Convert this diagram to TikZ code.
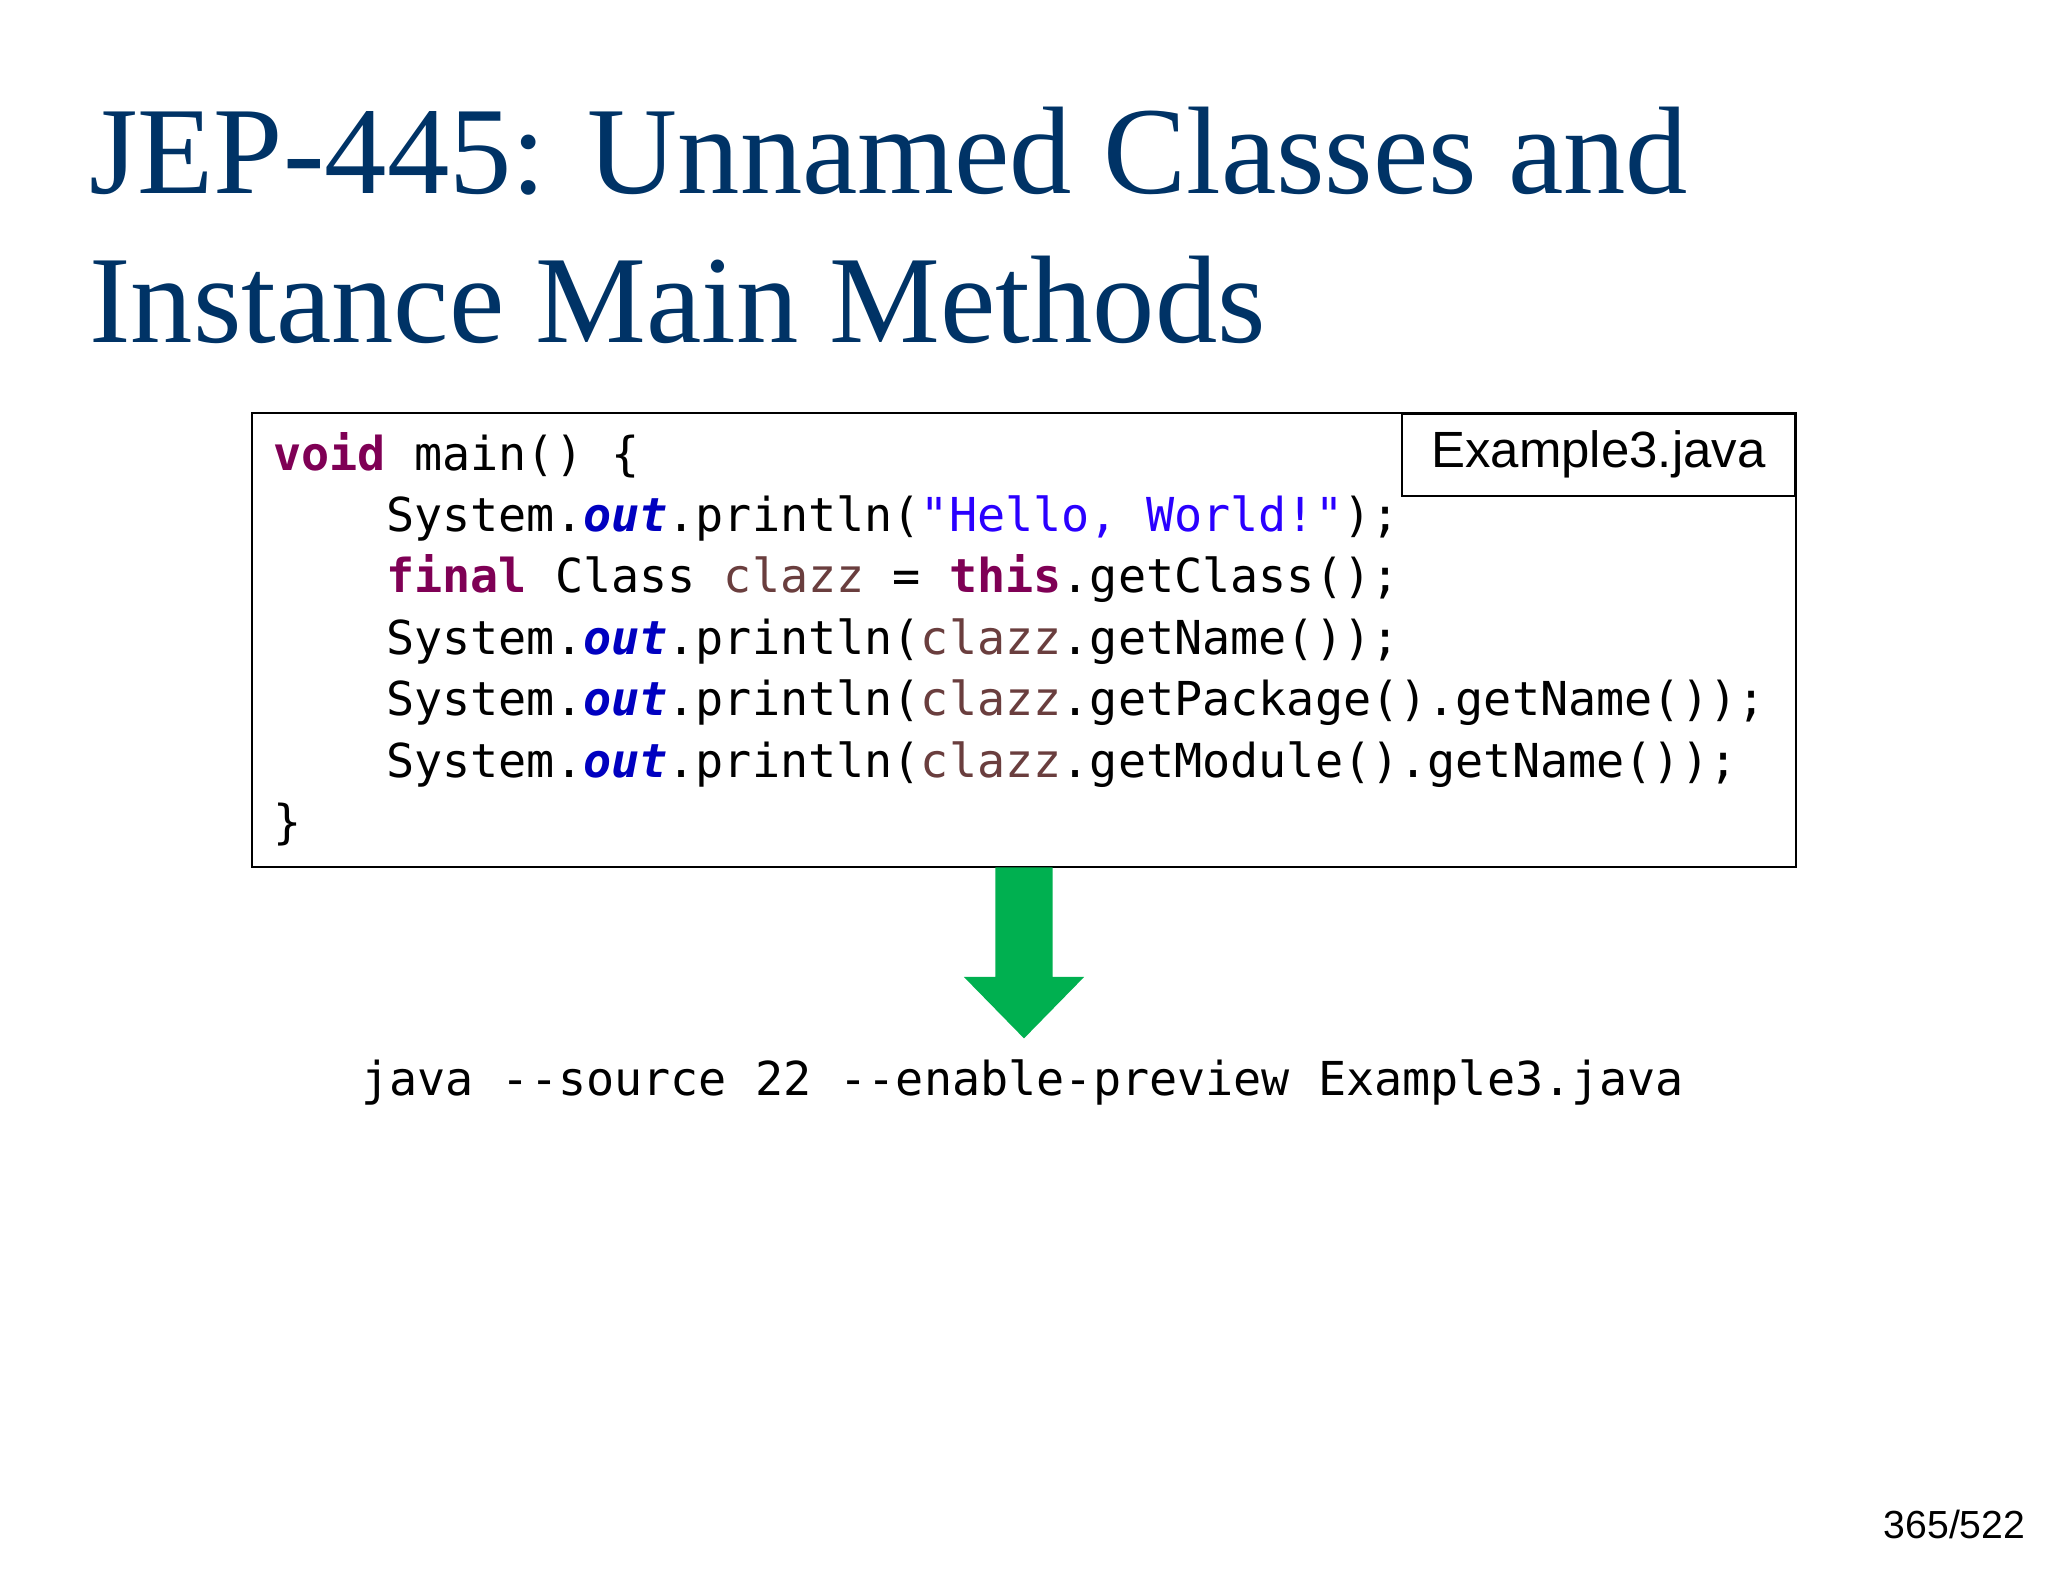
\documentclass[tikz,border=0pt]{standalone}
\usepackage{fontspec}
\setmainfont{Liberation Serif}
\setsansfont{Liberation Sans}
\setmonofont{DejaVu Sans Mono}
\definecolor{titleblue}{RGB}{0,51,102}
\definecolor{kwc}{RGB}{127,0,85}
\definecolor{fldc}{RGB}{0,0,192}
\definecolor{strc}{RGB}{42,0,255}
\definecolor{varc}{RGB}{106,62,62}
\definecolor{arrowgreen}{RGB}{0,176,80}
\newcommand{\kw}[1]{\textcolor{kwc}{\bfseries #1}}
\newcommand{\fld}[1]{\textcolor{fldc}{\bfseries\itshape #1}}
\newcommand{\strl}[1]{\textcolor{strc}{#1}}
\newcommand{\vr}[1]{\textcolor{varc}{#1}}
\newcommand{\ind}{\phantom{xxxx}}
\begin{document}
\begin{tikzpicture}[x=0.5pt,y=-0.5pt,
  title/.style={anchor=base west,inner sep=0,font=\fontsize{47.7}{57}\selectfont,text=titleblue},
  code/.style={anchor=base west,inner sep=0,font=\ttfamily\fontsize{17.9}{21}\selectfont},
  lbl/.style={font=\sffamily\fontsize{19.5}{23}\selectfont}]
\useasboundingbox (0,0) rectangle (1568,1211);
\node[title] (t1) at (68,148) {JEP-445: Unnamed Classes and};
\node[title] (t2) at (68,262) {Instance Main Methods};
\draw[line width=0.7pt] (193,316) rectangle (1375,664);
\node[draw,line width=0.7pt,fill=white,minimum width=150.5pt,minimum height=31.5pt,anchor=north east,lbl] (fname) at (1375,316) {Example3.java};
\node[code] (c1) at (209,360) {\kw{void} main() \{};
\node[code] (c2) at (209,407) {\ind System.\fld{out}.println(\strl{"Hello, World!"});};
\node[code] (c3) at (209,454) {\ind \kw{final} Class \vr{clazz} = \kw{this}.getClass();};
\node[code] (c4) at (209,501) {\ind System.\fld{out}.println(\vr{clazz}.getName());};
\node[code] (c5) at (209,548) {\ind System.\fld{out}.println(\vr{clazz}.getPackage().getName());};
\node[code] (c6) at (209,595) {\ind System.\fld{out}.println(\vr{clazz}.getModule().getName());};
\node[code] (c7) at (209,642) {\}};
\fill[arrowgreen] (762,664) -- (806,664) -- (806,748) -- (830,748) -- (784,795) -- (738,748) -- (762,748) -- cycle;
\node[code,anchor=base] (cmd) at (783,839) {java --source 22 --enable-preview Example3.java};
\node[anchor=base east,inner sep=0,font=\sffamily\fontsize{15}{18}\selectfont] (pg) at (1551,1178) {365/522};
\end{tikzpicture}
\end{document}
